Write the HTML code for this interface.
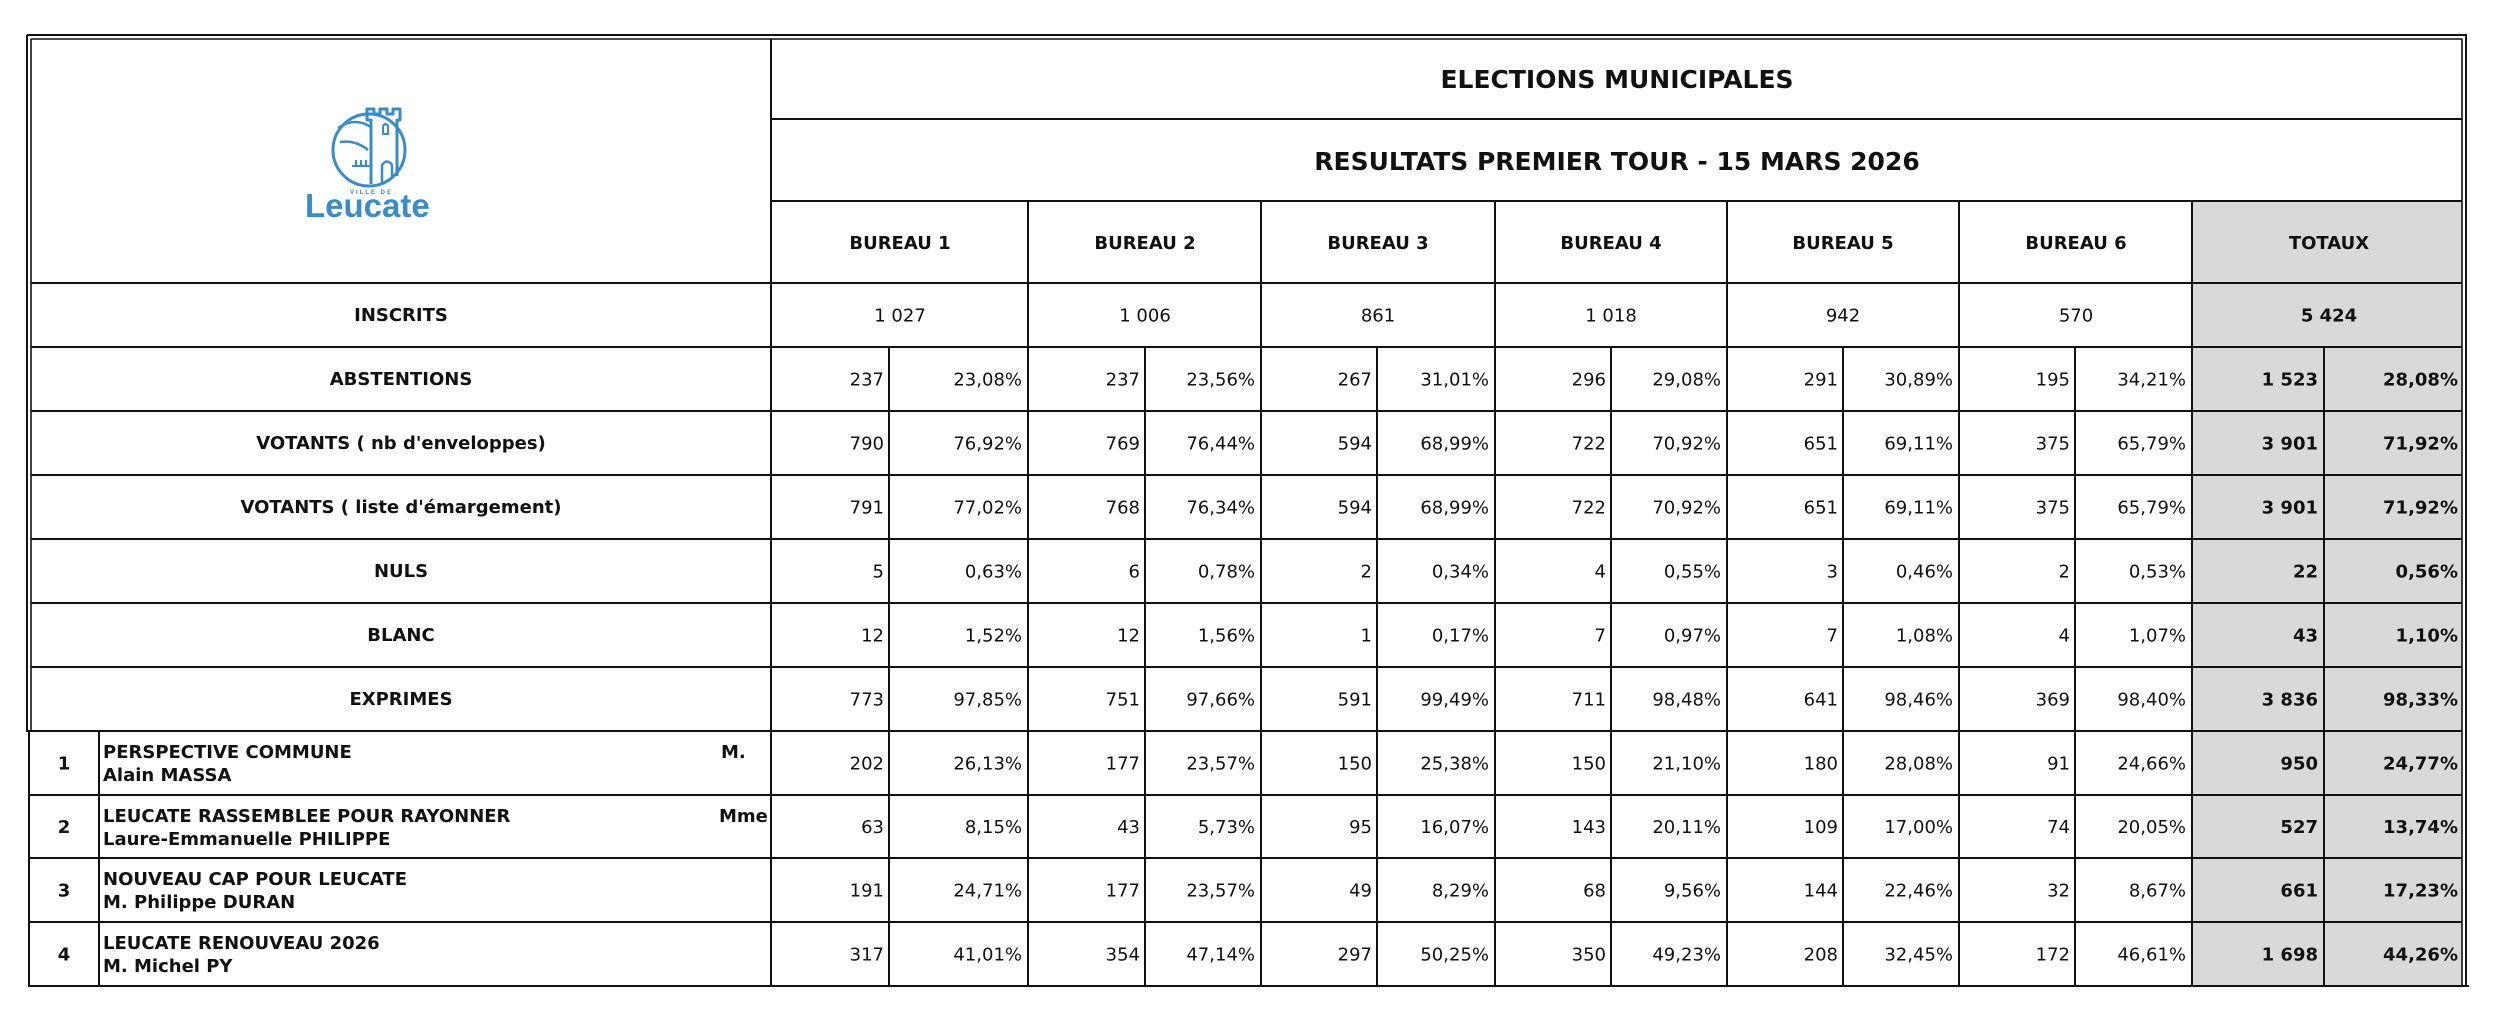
<!DOCTYPE html>
<html><head><meta charset="utf-8">
<style>
html,body{margin:0;padding:0;background:#fff;}
svg{display:block;}
text{font-family:"DejaVu Sans","Liberation Sans",sans-serif;font-size:18px;fill:#111;}
.b{font-weight:bold;}
.m{text-anchor:middle;}
.e{text-anchor:end;}
.t{font-size:25px;font-weight:bold;text-anchor:middle;}
.tot{font-weight:bold;text-anchor:end;}
</style></head>
<body>
<svg width="2498" height="1022" viewBox="0 0 2498 1022" xmlns="http://www.w3.org/2000/svg">
<rect x="0" y="0" width="2498" height="1022" fill="#fff"/>
<rect x="2192" y="201" width="270" height="785" fill="#d9d9d9"/>

<g stroke="#111" stroke-width="2" fill="none">
<line x1="27" y1="35" x2="2467" y2="35"/>
<line x1="31" y1="39" x2="2462" y2="39" stroke-width="1.6"/>
<line x1="771" y1="119" x2="2462" y2="119"/>
<line x1="771" y1="201" x2="2462" y2="201"/>
<line x1="31" y1="283" x2="2462" y2="283"/>
<line x1="31" y1="347" x2="2462" y2="347"/>
<line x1="31" y1="411" x2="2462" y2="411"/>
<line x1="31" y1="475" x2="2462" y2="475"/>
<line x1="31" y1="539" x2="2462" y2="539"/>
<line x1="31" y1="603" x2="2462" y2="603"/>
<line x1="31" y1="667" x2="2462" y2="667"/>
<line x1="26" y1="731" x2="2462" y2="731"/>
<line x1="29" y1="795" x2="2462" y2="795"/>
<line x1="29" y1="858" x2="2462" y2="858"/>
<line x1="29" y1="922" x2="2462" y2="922"/>
<line x1="28" y1="986" x2="2469" y2="986"/>

<line x1="27" y1="35" x2="27" y2="731"/>
<line x1="31" y1="39" x2="31" y2="731" stroke-width="1.6"/>
<line x1="29" y1="731" x2="29" y2="987"/>
<line x1="99" y1="731" x2="99" y2="986"/>
<line x1="771" y1="39" x2="771" y2="986"/>
<line x1="1028" y1="201" x2="1028" y2="986"/>
<line x1="1261" y1="201" x2="1261" y2="986"/>
<line x1="1495" y1="201" x2="1495" y2="986"/>
<line x1="1727" y1="201" x2="1727" y2="986"/>
<line x1="1959" y1="201" x2="1959" y2="986"/>
<line x1="2192" y1="201" x2="2192" y2="986"/>
<line x1="889" y1="347" x2="889" y2="986"/>
<line x1="1145" y1="347" x2="1145" y2="986"/>
<line x1="1377" y1="347" x2="1377" y2="986"/>
<line x1="1611" y1="347" x2="1611" y2="986"/>
<line x1="1843" y1="347" x2="1843" y2="986"/>
<line x1="2075" y1="347" x2="2075" y2="986"/>
<line x1="2324" y1="347" x2="2324" y2="986"/>
<line x1="2462" y1="39" x2="2462" y2="986" stroke-width="1.6"/>
<line x1="2466" y1="35" x2="2466" y2="987"/>
</g>

<!-- Logo -->
<g stroke="#3a8cc6" stroke-width="3" fill="none" stroke-linejoin="round">
<circle cx="369" cy="150" r="36"/>
<path d="M371,184 V120 H367 V109 H374 V114 H380 V109 H387 V114 H393 V109 H400 V120 H397 V176"/>
<path d="M383,134 V126 Q385.5,122 388,126 V134 Z" stroke-width="2"/>
<path d="M338,128 Q356,116 372,128" stroke-width="2.5"/>
<path d="M340,142 Q356,140 368,150" stroke-width="2.5"/>
<path d="M352,166 H371 M356,160 V166 M361,160 V166 M366,160 V166" stroke-width="2"/>
<path d="M382,184 V165 Q387,158 392,165 V178" stroke-width="2.5"/>
</g>
<text x="350" y="194" style="font-size:6px;fill:#3a8cc6;letter-spacing:2px;font-family:'Liberation Sans',sans-serif;font-weight:bold">VILLE DE</text>
<text x="305" y="217" style="font-size:33px;fill:#3a8cc6;font-weight:bold;font-family:'Liberation Sans',sans-serif">Leucate</text>

<!-- Titles -->
<text class="t" x="1617" y="88">ELECTIONS MUNICIPALES</text>
<text class="t" x="1617" y="170">RESULTATS PREMIER TOUR - 15 MARS 2026</text>

<!-- Bureau headers -->
<g class="b m">
<text class="b m" x="900" y="249">BUREAU 1</text>
<text class="b m" x="1145" y="249">BUREAU 2</text>
<text class="b m" x="1378" y="249">BUREAU 3</text>
<text class="b m" x="1611" y="249">BUREAU 4</text>
<text class="b m" x="1843" y="249">BUREAU 5</text>
<text class="b m" x="2076" y="249">BUREAU 6</text>
<text class="b m" x="2329" y="249">TOTAUX</text>
</g>

<!-- Row labels -->
<text class="b m" x="401" y="321">INSCRITS</text>
<text class="b m" x="401" y="385">ABSTENTIONS</text>
<text class="b m" x="401" y="449">VOTANTS ( nb d'enveloppes)</text>
<text class="b m" x="401" y="513">VOTANTS ( liste d'émargement)</text>
<text class="b m" x="401" y="577">NULS</text>
<text class="b m" x="401" y="641">BLANC</text>
<text class="b m" x="401" y="705">EXPRIMES</text>

<!-- INSCRITS -->
<text class="m" x="900" y="321.5">1 027</text>
<text class="m" x="1145" y="321.5">1 006</text>
<text class="m" x="1378" y="321.5">861</text>
<text class="m" x="1611" y="321.5">1 018</text>
<text class="m" x="1843" y="321.5">942</text>
<text class="m" x="2076" y="321.5">570</text>
<text class="b m" x="2329" y="321.5">5 424</text>

<!-- ABSTENTIONS y=385.5 -->
<text class="e" x="884" y="385.5">237</text><text class="e" x="1022" y="385.5">23,08%</text>
<text class="e" x="1140" y="385.5">237</text><text class="e" x="1255" y="385.5">23,56%</text>
<text class="e" x="1372" y="385.5">267</text><text class="e" x="1489" y="385.5">31,01%</text>
<text class="e" x="1606" y="385.5">296</text><text class="e" x="1721" y="385.5">29,08%</text>
<text class="e" x="1838" y="385.5">291</text><text class="e" x="1953" y="385.5">30,89%</text>
<text class="e" x="2070" y="385.5">195</text><text class="e" x="2186" y="385.5">34,21%</text>
<text class="tot" x="2318" y="385.5">1 523</text><text class="tot" x="2458" y="385.5">28,08%</text>

<!-- VOTANTS nb y=449.5 -->
<text class="e" x="884" y="449.5">790</text><text class="e" x="1022" y="449.5">76,92%</text>
<text class="e" x="1140" y="449.5">769</text><text class="e" x="1255" y="449.5">76,44%</text>
<text class="e" x="1372" y="449.5">594</text><text class="e" x="1489" y="449.5">68,99%</text>
<text class="e" x="1606" y="449.5">722</text><text class="e" x="1721" y="449.5">70,92%</text>
<text class="e" x="1838" y="449.5">651</text><text class="e" x="1953" y="449.5">69,11%</text>
<text class="e" x="2070" y="449.5">375</text><text class="e" x="2186" y="449.5">65,79%</text>
<text class="tot" x="2318" y="449.5">3 901</text><text class="tot" x="2458" y="449.5">71,92%</text>

<!-- VOTANTS liste y=513.5 -->
<text class="e" x="884" y="513.5">791</text><text class="e" x="1022" y="513.5">77,02%</text>
<text class="e" x="1140" y="513.5">768</text><text class="e" x="1255" y="513.5">76,34%</text>
<text class="e" x="1372" y="513.5">594</text><text class="e" x="1489" y="513.5">68,99%</text>
<text class="e" x="1606" y="513.5">722</text><text class="e" x="1721" y="513.5">70,92%</text>
<text class="e" x="1838" y="513.5">651</text><text class="e" x="1953" y="513.5">69,11%</text>
<text class="e" x="2070" y="513.5">375</text><text class="e" x="2186" y="513.5">65,79%</text>
<text class="tot" x="2318" y="513.5">3 901</text><text class="tot" x="2458" y="513.5">71,92%</text>

<!-- NULS y=577.5 -->
<text class="e" x="884" y="577.5">5</text><text class="e" x="1022" y="577.5">0,63%</text>
<text class="e" x="1140" y="577.5">6</text><text class="e" x="1255" y="577.5">0,78%</text>
<text class="e" x="1372" y="577.5">2</text><text class="e" x="1489" y="577.5">0,34%</text>
<text class="e" x="1606" y="577.5">4</text><text class="e" x="1721" y="577.5">0,55%</text>
<text class="e" x="1838" y="577.5">3</text><text class="e" x="1953" y="577.5">0,46%</text>
<text class="e" x="2070" y="577.5">2</text><text class="e" x="2186" y="577.5">0,53%</text>
<text class="tot" x="2318" y="577.5">22</text><text class="tot" x="2458" y="577.5">0,56%</text>

<!-- BLANC y=641.5 -->
<text class="e" x="884" y="641.5">12</text><text class="e" x="1022" y="641.5">1,52%</text>
<text class="e" x="1140" y="641.5">12</text><text class="e" x="1255" y="641.5">1,56%</text>
<text class="e" x="1372" y="641.5">1</text><text class="e" x="1489" y="641.5">0,17%</text>
<text class="e" x="1606" y="641.5">7</text><text class="e" x="1721" y="641.5">0,97%</text>
<text class="e" x="1838" y="641.5">7</text><text class="e" x="1953" y="641.5">1,08%</text>
<text class="e" x="2070" y="641.5">4</text><text class="e" x="2186" y="641.5">1,07%</text>
<text class="tot" x="2318" y="641.5">43</text><text class="tot" x="2458" y="641.5">1,10%</text>

<!-- EXPRIMES y=705.5 -->
<text class="e" x="884" y="705.5">773</text><text class="e" x="1022" y="705.5">97,85%</text>
<text class="e" x="1140" y="705.5">751</text><text class="e" x="1255" y="705.5">97,66%</text>
<text class="e" x="1372" y="705.5">591</text><text class="e" x="1489" y="705.5">99,49%</text>
<text class="e" x="1606" y="705.5">711</text><text class="e" x="1721" y="705.5">98,48%</text>
<text class="e" x="1838" y="705.5">641</text><text class="e" x="1953" y="705.5">98,46%</text>
<text class="e" x="2070" y="705.5">369</text><text class="e" x="2186" y="705.5">98,40%</text>
<text class="tot" x="2318" y="705.5">3 836</text><text class="tot" x="2458" y="705.5">98,33%</text>

<!-- Candidate 1 (top 731) -->
<text class="b m" x="64" y="769.5">1</text>
<text class="b" x="103" y="758">PERSPECTIVE COMMUNE</text>
<text class="b" x="721" y="758">M.</text>
<text class="b" x="103" y="781">Alain MASSA</text>
<text class="e" x="884" y="769.5">202</text><text class="e" x="1022" y="769.5">26,13%</text>
<text class="e" x="1140" y="769.5">177</text><text class="e" x="1255" y="769.5">23,57%</text>
<text class="e" x="1372" y="769.5">150</text><text class="e" x="1489" y="769.5">25,38%</text>
<text class="e" x="1606" y="769.5">150</text><text class="e" x="1721" y="769.5">21,10%</text>
<text class="e" x="1838" y="769.5">180</text><text class="e" x="1953" y="769.5">28,08%</text>
<text class="e" x="2070" y="769.5">91</text><text class="e" x="2186" y="769.5">24,66%</text>
<text class="tot" x="2318" y="769.5">950</text><text class="tot" x="2458" y="769.5">24,77%</text>

<!-- Candidate 2 (top 795) -->
<text class="b m" x="64" y="833">2</text>
<text class="b" x="103" y="822">LEUCATE RASSEMBLEE POUR RAYONNER</text>
<text class="b" x="719" y="822">Mme</text>
<text class="b" x="103" y="845">Laure-Emmanuelle PHILIPPE</text>
<text class="e" x="884" y="833">63</text><text class="e" x="1022" y="833">8,15%</text>
<text class="e" x="1140" y="833">43</text><text class="e" x="1255" y="833">5,73%</text>
<text class="e" x="1372" y="833">95</text><text class="e" x="1489" y="833">16,07%</text>
<text class="e" x="1606" y="833">143</text><text class="e" x="1721" y="833">20,11%</text>
<text class="e" x="1838" y="833">109</text><text class="e" x="1953" y="833">17,00%</text>
<text class="e" x="2070" y="833">74</text><text class="e" x="2186" y="833">20,05%</text>
<text class="tot" x="2318" y="833">527</text><text class="tot" x="2458" y="833">13,74%</text>

<!-- Candidate 3 (top 858) -->
<text class="b m" x="64" y="896.5">3</text>
<text class="b" x="103" y="885">NOUVEAU CAP POUR LEUCATE</text>
<text class="b" x="103" y="908">M. Philippe DURAN</text>
<text class="e" x="884" y="896.5">191</text><text class="e" x="1022" y="896.5">24,71%</text>
<text class="e" x="1140" y="896.5">177</text><text class="e" x="1255" y="896.5">23,57%</text>
<text class="e" x="1372" y="896.5">49</text><text class="e" x="1489" y="896.5">8,29%</text>
<text class="e" x="1606" y="896.5">68</text><text class="e" x="1721" y="896.5">9,56%</text>
<text class="e" x="1838" y="896.5">144</text><text class="e" x="1953" y="896.5">22,46%</text>
<text class="e" x="2070" y="896.5">32</text><text class="e" x="2186" y="896.5">8,67%</text>
<text class="tot" x="2318" y="896.5">661</text><text class="tot" x="2458" y="896.5">17,23%</text>

<!-- Candidate 4 (top 922) -->
<text class="b m" x="64" y="960.5">4</text>
<text class="b" x="103" y="949">LEUCATE RENOUVEAU 2026</text>
<text class="b" x="103" y="972">M. Michel PY</text>
<text class="e" x="884" y="960.5">317</text><text class="e" x="1022" y="960.5">41,01%</text>
<text class="e" x="1140" y="960.5">354</text><text class="e" x="1255" y="960.5">47,14%</text>
<text class="e" x="1372" y="960.5">297</text><text class="e" x="1489" y="960.5">50,25%</text>
<text class="e" x="1606" y="960.5">350</text><text class="e" x="1721" y="960.5">49,23%</text>
<text class="e" x="1838" y="960.5">208</text><text class="e" x="1953" y="960.5">32,45%</text>
<text class="e" x="2070" y="960.5">172</text><text class="e" x="2186" y="960.5">46,61%</text>
<text class="tot" x="2318" y="960.5">1 698</text><text class="tot" x="2458" y="960.5">44,26%</text>
</svg>
</body></html>
